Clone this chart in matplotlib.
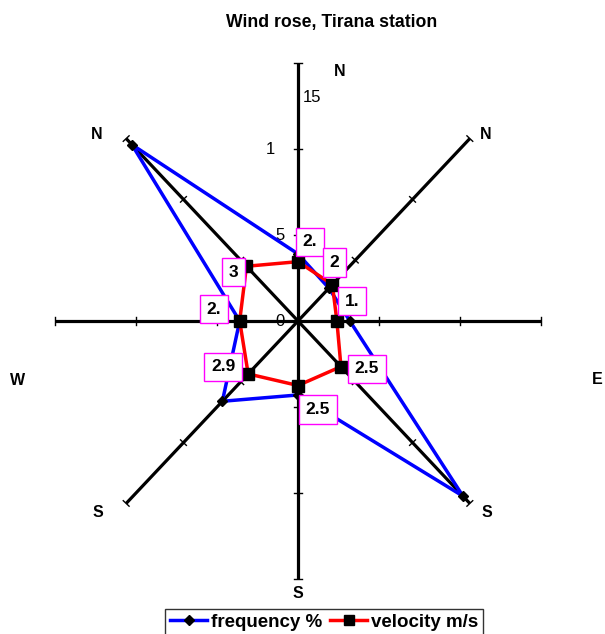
import numpy as np
import matplotlib.pyplot as plt

# Данные розы ветров
directions = ['N', 'NE', 'E', 'SE', 'S', 'SW', 'W', 'NW']
dir_labels = ['N', 'N', 'E', 'S', 'S', 'S', 'W', 'N']
frequency = [3.9, 2.7, 3.2, 14.4, 4.3, 6.6, 3.6, 14.5]
velocity = [2.3, 2.0, 1.6, 2.5, 2.5, 2.9, 2.4, 3.0]
velocity_text = ['2.', '2', '1.', '2.5', '2.5', '2.9', '2.', '3']
velocity_scale = 1.5  # скорость показана в увеличенном масштабе
tick_values = [0, 5, 10, 15]
tick_text = ['0', '5', '1', '15']
r_max = 15

# масштаб (пиксели на единицу) по осям
sx, sy = 16.2, 17.2
cx, cy = 298, 321
W, H = 605, 634

angles = np.deg2rad(np.arange(8) * 45)

def polar(r, a):
    return np.asarray(r) * np.sin(a), np.asarray(r) * np.cos(a)

fig = plt.figure(figsize=(W / 100, H / 100), dpi=100)
ax = fig.add_axes([0, 0, 1, 1])
ax.set_xlim(-cx / sx, (W - cx) / sx)
ax.set_ylim(-(H - cy) / sy, cy / sy)
ax.axis('off')

# Оси (спицы) с делениями
for a in angles:
    x, y = polar(r_max, a)
    ax.plot([0, x], [0, y], color='black', lw=2.3, zorder=2, solid_capstyle='butt')
    px, py = np.sin(a) * sx, np.cos(a) * sy
    n = np.hypot(px, py)
    qx, qy = -py / n * 4 / sx, px / n * 4 / sy
    for t in tick_values[1:]:
        tx, ty = polar(t, a)
        ax.plot([tx - qx, tx + qx], [ty - qy, ty + qy], color='black', lw=1, zorder=2)

# Подписи направлений
dir_offsets = [(42, -9), (16, 4), (56, -59), (17, -9), (0, -15), (-28, -9), (-37, -59), (-29, 4)]
for a, lab, off in zip(angles, dir_labels, dir_offsets):
    x, y = polar(r_max, a)
    ax.annotate(lab, (x, y), xytext=(off[0] * 0.72, off[1] * 0.72), textcoords='offset points',
                ha='center', va='center', fontsize=11.5, fontweight='bold', family='Liberation Sans')

# Подписи шкалы
tick_offsets = [(-18, 0), (-18, 0), (-28, 0), (14, -34)]
for t, s, off in zip(tick_values, tick_text, tick_offsets):
    ax.annotate(s, (0, t), xytext=(off[0] * 0.72, off[1] * 0.72), textcoords='offset points',
                ha='center', va='center', fontsize=12, family='Liberation Sans', zorder=1)

# Частота
fx, fy = polar(frequency, angles)
ax.plot(np.append(fx, fx[0]), np.append(fy, fy[0]), color='#0000ff', lw=2.5, zorder=3)
ax.plot(fx, fy, ls='none', marker='D', ms=5, color='black', zorder=5)

# Скорость
vr = np.array(velocity) * velocity_scale
vx, vy = polar(vr, angles)
ax.plot(np.append(vx, vx[0]), np.append(vy, vy[0]), color='#ff0000', lw=2.5, zorder=4)
ax.plot(vx, vy, ls='none', marker='s', ms=8, color='black', zorder=6)

label_offsets = [(12, -20), (2, -22), (15, -20), (26, 2), (20, 24), (-25, -7), (-26, -12), (-13, 6)]
for x, y, s, off in zip(vx, vy, velocity_text, label_offsets):
    ax.annotate(s, (x, y), xytext=(off[0] * 0.72, -off[1] * 0.72), textcoords='offset points',
                ha='center', va='center', fontsize=12.5, fontweight='bold', family='Liberation Sans',
                bbox=dict(boxstyle='square,pad=0.38', fc='white', ec='#ff00ff', lw=1), zorder=7)

fig.text(332 / W, 1 - 22 / H, 'Wind rose, Tirana station', ha='center', va='center',
         fontsize=12.7, fontweight='bold', family='Liberation Sans')

h1, = ax.plot([], [], color='#0000ff', lw=2.5, marker='D', ms=5, mfc='black', mec='black')
h2, = ax.plot([], [], color='#ff0000', lw=2.5, marker='s', ms=7, mfc='black', mec='black')
leg = fig.legend([h1, h2], ['frequency %', 'velocity m/s'], loc='upper center',
                 bbox_to_anchor=(324 / W, 1 - 609 / H), ncol=2, frameon=True, fancybox=False,
                 prop=dict(family='Liberation Sans', weight='bold', size=13.5),
                 handlelength=2.0, handletextpad=0.2, columnspacing=0.4, borderpad=0.25,
                 borderaxespad=0)
leg.get_frame().set_edgecolor('black')
leg.get_frame().set_linewidth(1)

fig.savefig('out.png', dpi=100)
